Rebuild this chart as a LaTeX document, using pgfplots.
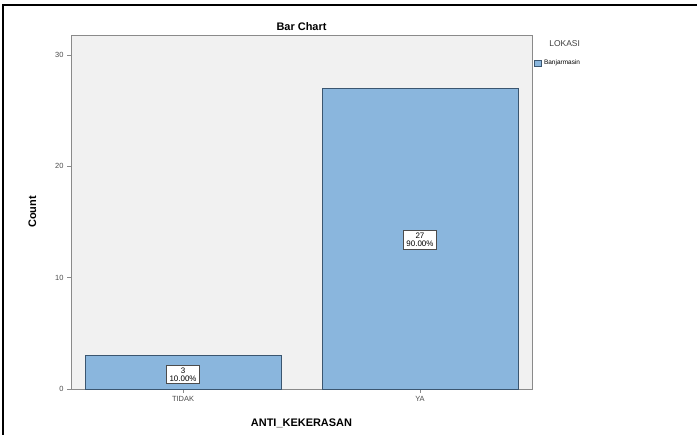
\documentclass[border=0pt]{standalone}
\usepackage{pgfplots}
\pgfplotsset{compat=1.18}
\usepackage{fontspec}
\setmainfont{Liberation Sans}
\definecolor{barfill}{HTML}{8AB6DD}
\definecolor{baredge}{HTML}{3B5670}
\definecolor{plotbg}{HTML}{F1F1F1}
\definecolor{axgray}{HTML}{8A8A8A}
\begin{document}
\begin{tikzpicture}[x=1bp,y=1bp]
\useasboundingbox (0,0) rectangle (697,435);
\fill[white] (0,0) rectangle (697,435);
\draw[black,line width=1.6bp] (3,-10) rectangle (710,430);
\begin{axis}[
  at={(71bp,46bp)}, anchor=south west,
  scale only axis, width=461bp, height=354bp,
  xmin=-0.473, xmax=1.473, ymin=0, ymax=31.8,
  xtick={0,1}, xticklabels={TIDAK,YA},
  ytick={0,10,20,30},
  axis background/.style={fill=plotbg},
  axis line style={axgray, line width=0.8bp},
  tick style={axgray, line width=0.6bp},
  tick align=outside, major tick length=4bp,
  xtick pos=bottom, ytick pos=left,
  ticklabel style={font=\fontsize{7.5}{8}\selectfont, text=black!70},
  /pgf/number format/assume math mode=true,
  xlabel={\textbf{ANTI\_KEKERASAN}},
  ylabel={\textbf{Count}},
  xlabel style={font=\fontsize{11}{13}\selectfont, yshift=-10bp},
  ylabel style={font=\fontsize{11}{13}\selectfont, yshift=12bp},
  title={\textbf{Bar Chart}},
  title style={font=\fontsize{11}{13}\selectfont, yshift=-5bp},
  legend style={at={(1.003,0.935)}, anchor=north west, draw=none, fill=none,
    font=\fontsize{6.5}{7}\selectfont, inner sep=0pt, row sep=0pt},
  legend image code/.code={\draw[#1, fill=barfill, draw=baredge] (0cm,-0.1cm) rectangle (0.27cm,0.1cm);},
  clip=false,
]
\addplot[ybar, bar width=0.827, fill=barfill, draw=baredge, line width=0.8bp]
  coordinates {(0,3) (1,27)};
\addlegendentry{Banjarmasin}
\addplot[draw=none, mark=none, nodes near coords, point meta=explicit symbolic,
  every node near coord/.style={anchor=center, draw=black!70, fill=white, align=center,
    font=\fontsize{8}{8}\selectfont, inner xsep=3bp, inner ysep=2.5bp, line width=0.8bp}, forget plot]
  coordinates {(0,1.3) [3\\10.00\%] (1,13.4) [27\\90.00\%]};
\node[font=\fontsize{8.5}{10}\selectfont, text=black!75, anchor=west] at (rel axis cs:1.03,0.975) {LOKASI};
\end{axis}
\end{tikzpicture}
\end{document}
